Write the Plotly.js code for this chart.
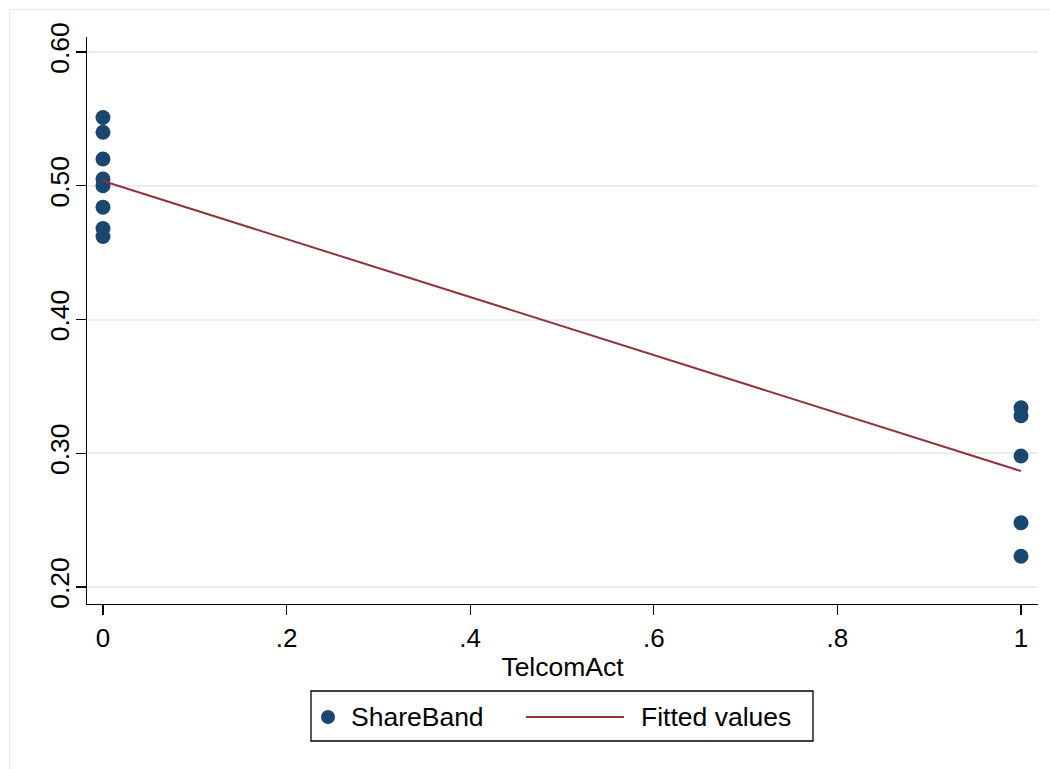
<!DOCTYPE html>
<html>
<head>
<meta charset="utf-8">
<script src="https://cdn.plot.ly/plotly-3.0.1.min.js"></script>
<style>
  html, body { margin: 0; padding: 0; background: #ffffff; }
  #chart { width: 1050px; height: 769px; }
</style>
</head>
<body>
<div id="chart"></div>
<script>
// Share of band by telecom act status (0 = before, 1 = after)
const telcomAct = [0, 0, 0, 0, 0, 0, 0, 0, 1, 1, 1, 1, 1];
const shareBand = [0.551, 0.540, 0.520, 0.505, 0.500, 0.484, 0.468, 0.462,
                   0.334, 0.328, 0.298, 0.248, 0.223];

// Linear fit endpoints
const fitX = [0, 1];
const fitY = [0.5035, 0.2867];

// Axis ticks
const xTickVals = [0, 0.2, 0.4, 0.6, 0.8, 1];
const xTickText = ['0', '.2', '.4', '.6', '.8', '1'];
const yTickVals = [0.2, 0.3, 0.4, 0.5, 0.6];
const yTickText = ['0.20', '0.30', '0.40', '0.50', '0.60'];

// Legend labels
const legendNames = ['ShareBand', 'Fitted values'];

const navy = '#1a476f';
const maroon = '#90353b';
const gridCol = '#e6eff2';
const font = 'Liberation Sans, Arial, Helvetica, sans-serif';

const traces = [
  {
    type: 'scatter', mode: 'markers', name: legendNames[0],
    x: telcomAct, y: shareBand,
    marker: { color: navy, size: 15, line: { width: 0 } },
    showlegend: false, cliponaxis: false
  },
  {
    type: 'scatter', mode: 'lines', name: legendNames[1],
    x: fitX, y: fitY,
    line: { color: maroon, width: 2 },
    showlegend: false
  }
];

// Plot area in pixels: left 87, right 1038, top 37, bottom 604
const L = 87, R = 1038, T = 37, B = 604;
const pw = R - L, ph = B - T;
const px = v => (v - L) / pw;
const py = v => (B - v) / ph;

const layout = {
  width: 1050, height: 769,
  margin: { l: L, r: 1050 - R, t: T, b: 769 - B, pad: 0 },
  paper_bgcolor: '#ffffff', plot_bgcolor: '#ffffff',
  font: { family: font, color: '#000000', size: 26 },
  xaxis: {
    range: [-0.0174, 1.0185],
    tickvals: xTickVals, ticktext: xTickText,
    ticks: 'outside', ticklen: 10, tickwidth: 1.3, tickcolor: '#000000',
    showline: true, linecolor: '#000000', linewidth: 1.3,
    showgrid: false, zeroline: false,
    tickfont: { family: font, size: 26 },
    title: { text: 'TelcomAct', font: { family: font, size: 26.5 }, standoff: 6 }
  },
  yaxis: {
    range: [0.1873, 0.6112],
    tickvals: yTickVals, ticktext: yTickText,
    ticks: 'outside', ticklen: 10, tickwidth: 1.3, tickcolor: '#000000',
    showline: true, linecolor: '#000000', linewidth: 1.3,
    showgrid: true, gridcolor: gridCol, gridwidth: 2,
    zeroline: false, tickangle: -90, ticklabelstandoff: -4,
    tickfont: { family: font, size: 26.5 }
  },
  shapes: [
    // outer graph region frame (top and left edges)
    { type: 'line', xref: 'paper', yref: 'paper',
      x0: px(9.5), x1: px(1050), y0: py(9.5), y1: py(9.5),
      line: { color: '#e6ecee', width: 1 } },
    { type: 'line', xref: 'paper', yref: 'paper',
      x0: px(9.5), x1: px(9.5), y0: py(9.5), y1: py(769),
      line: { color: '#e6ecee', width: 1 } },
    // legend box
    { type: 'rect', xref: 'paper', yref: 'paper',
      x0: px(311), x1: px(813), y0: py(691), y1: py(741),
      line: { color: '#000000', width: 1.3 }, fillcolor: '#ffffff' },
    // legend marker
    { type: 'circle', xref: 'paper', yref: 'paper',
      xsizemode: 'pixel', ysizemode: 'pixel',
      xanchor: px(328), yanchor: py(717),
      x0: -7, x1: 7, y0: -7, y1: 7,
      fillcolor: navy, line: { width: 0 } },
    // legend line
    { type: 'line', xref: 'paper', yref: 'paper',
      x0: px(526), x1: px(624), y0: py(717), y1: py(717),
      line: { color: maroon, width: 2 } }
  ],
  annotations: [
    { xref: 'paper', yref: 'paper', x: px(349), y: py(717),
      xanchor: 'left', yanchor: 'middle', showarrow: false,
      text: legendNames[0], font: { family: font, size: 26.5 } },
    { xref: 'paper', yref: 'paper', x: px(639), y: py(717),
      xanchor: 'left', yanchor: 'middle', showarrow: false,
      text: legendNames[1], font: { family: font, size: 26.5 } }
  ],
  showlegend: false
};

Plotly.newPlot('chart', traces, layout, { displayModeBar: false, staticPlot: true });
</script>
</body>
</html>
